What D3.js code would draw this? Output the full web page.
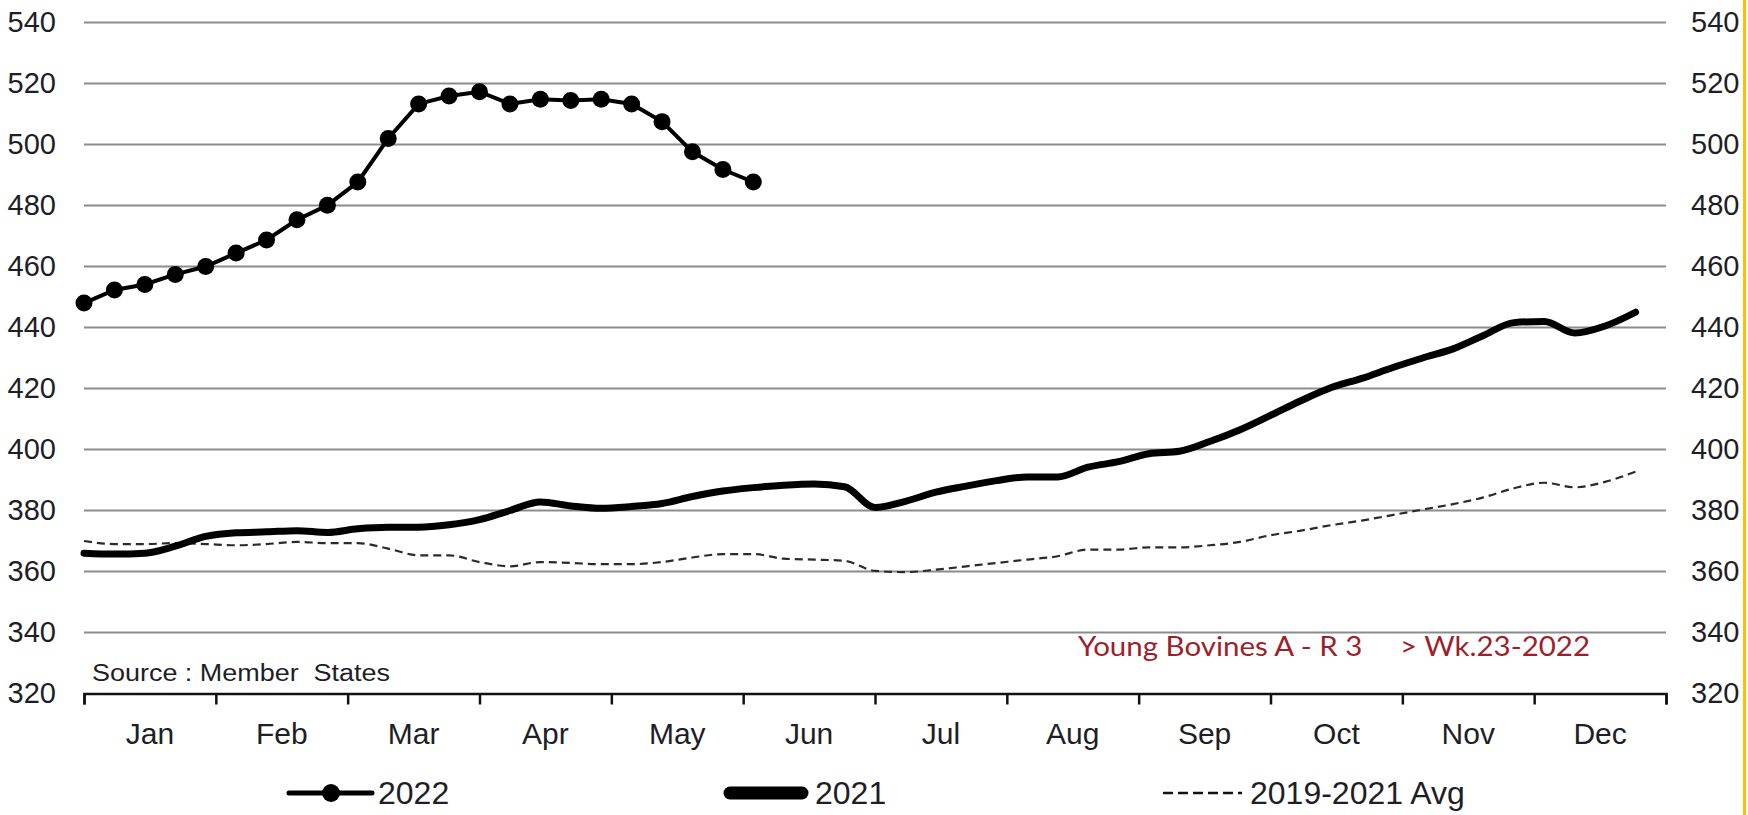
<!DOCTYPE html>
<html>
<head>
<meta charset="utf-8">
<script src="https://cdn.jsdelivr.net/npm/d3@7"></script>
<style>
  body { margin: 0; background: #fff; }
  text { font-family: "Liberation Sans", Arial, sans-serif; fill: #1e1e26; }
</style>
</head>
<body>
<svg id="chart" width="1748" height="815"></svg>
<script>
// weekly prices, EUR/100kg
var months = ["Jan","Feb","Mar","Apr","May","Jun","Jul","Aug","Sep","Oct","Nov","Dec"];
var yTicks = [320,340,360,380,400,420,440,460,480,500,520,540];

var v2022 = [448,452.3,454.1,457.4,460,464.4,468.7,475.3,480.1,487.7,502,513.3,
  515.9,517.3,513.3,514.8,514.4,514.8,513.3,507.5,497.6,491.8,487.7];

var v2021 = [366,365.7,366,368.3,371.5,372.7,373,373.4,372.8,374,374.5,374.5,
  375.3,377,380,382.8,381.5,380.7,381.3,382.3,384.6,386.4,387.5,388.3,388.7,387.8,
  381,383,386,388,389.8,391,391,394.2,396,398.6,399.4,402.6,406.5,411.2,416,420.3,
  423.3,426.8,430,433,437.4,441.6,442,438.2,440.5,445];

var vAvg = [370,369,369,369.3,369,368.6,369,369.7,369.3,369.3,367.5,365.3,
  365.3,363.1,361.7,363.1,362.8,362.4,362.4,363.1,364.6,365.7,365.7,364.2,363.9,363.5,
  360.2,359.8,360.6,361.7,362.8,363.9,365,367.2,367.2,367.9,367.9,368.6,369.7,371.9,
  373.4,375.2,376.7,378.5,380.3,382.1,384.3,387.3,389.1,387.6,389.4,392.7];

var plotL = 84, plotR = 1666, plotT = 22.5, plotB = 693.5;

var svg = d3.select("#chart");

var x = d3.scaleLinear().domain([1, 53]).range([plotL, plotR]);
var xm = d3.scaleLinear().domain([0, 12]).range([plotL, plotR]);
var y = d3.scaleLinear().domain([320, 540]).range([plotB, plotT]);

// gridlines
svg.append("g")
  .selectAll("line")
  .data(yTicks.filter(function(d){ return d > 320; }))
  .enter().append("line")
  .attr("x1", plotL).attr("x2", plotR)
  .attr("y1", function(d){ return y(d); })
  .attr("y2", function(d){ return y(d); })
  .style("stroke", "#8c8c8c")
  .style("stroke-width", 2);

// left / right value labels
var yl = svg.append("g")
  .attr("transform", "translate(56,0)")
  .call(d3.axisLeft(y).tickValues(yTicks).tickSize(0).tickPadding(0));
var yr = svg.append("g")
  .attr("transform", "translate(1691,0)")
  .call(d3.axisRight(y).tickValues(yTicks).tickSize(0).tickPadding(0));
[yl, yr].forEach(function(g){
  g.select(".domain").remove();
  g.selectAll("text").style("font-size", "29px").style("font-family", "Liberation Sans, Arial, sans-serif").attr("fill", "#1e1e26");
});

// month axis
var xa = svg.append("g")
  .attr("transform", "translate(0," + plotB + ")")
  .call(d3.axisBottom(xm).tickValues(d3.range(0, 13)).tickSize(11).tickFormat(""));
xa.select(".domain").style("stroke", "#111").style("stroke-width", 2.5);
xa.selectAll(".tick line").style("stroke", "#111").style("stroke-width", 2.5);

svg.append("g")
  .selectAll("text")
  .data(months)
  .enter().append("text")
  .attr("x", function(d, i){ return xm(i + 0.5); })
  .attr("y", 744)
  .attr("text-anchor", "middle")
  .style("font-size", "30px")
  .text(function(d){ return d; });

// series
var smooth = d3.line()
  .x(function(d, i){ return x(i + 1); })
  .y(function(d){ return y(d); })
  .curve(d3.curveMonotoneX);

svg.append("path")
  .datum(vAvg)
  .attr("d", smooth)
  .style("fill", "none")
  .style("stroke", "#2a2a2a")
  .style("stroke-width", 2.2)
  .style("stroke-dasharray", "8,5");

svg.append("path")
  .datum(v2021)
  .attr("d", smooth)
  .style("fill", "none")
  .style("stroke", "#000")
  .style("stroke-width", 7)
  .style("stroke-linejoin", "round")
  .style("stroke-linecap", "round");

var straight = d3.line()
  .x(function(d, i){ return x(i + 1); })
  .y(function(d){ return y(d); });

svg.append("path")
  .datum(v2022)
  .attr("d", straight)
  .style("fill", "none")
  .style("stroke", "#000")
  .style("stroke-width", 4);

svg.append("g")
  .selectAll("circle")
  .data(v2022)
  .enter().append("circle")
  .attr("cx", function(d, i){ return x(i + 1); })
  .attr("cy", function(d){ return y(d); })
  .attr("r", 8.5)
  .style("fill", "#000");

// notes
svg.append("text")
  .attr("x", 92).attr("y", 681)
  .attr("textLength", 298)
  .attr("lengthAdjust", "spacingAndGlyphs")
  .style("font-size", "23px")
  .style("white-space", "pre")
  .text("Source : Member  States");

svg.append("text")
  .attr("x", 1078).attr("y", 656)
  .attr("textLength", 512)
  .attr("lengthAdjust", "spacingAndGlyphs")
  .style("font-family", "Lato, 'Open Sans', sans-serif")
  .style("font-size", "26px")
  .style("white-space", "pre")
  .style("fill", "#9e1f2c")
  .text("Young Bovines A - R 3     > Wk.23-2022");

// legend
var ly = 793;
svg.append("line").attr("x1", 289).attr("x2", 372).attr("y1", ly).attr("y2", ly)
  .style("stroke", "#000").style("stroke-width", 5).style("stroke-linecap", "round");
svg.append("circle").attr("cx", 331).attr("cy", ly).attr("r", 9).style("fill", "#000");
svg.append("text").attr("x", 378).attr("y", ly + 11).style("font-size", "32px").text("2022");

svg.append("line").attr("x1", 730).attr("x2", 802).attr("y1", ly).attr("y2", ly)
  .style("stroke", "#000").style("stroke-width", 13).style("stroke-linecap", "round");
svg.append("text").attr("x", 815).attr("y", ly + 11).style("font-size", "32px").text("2021");

svg.append("line").attr("x1", 1163).attr("x2", 1242).attr("y1", ly).attr("y2", ly)
  .style("stroke", "#111").style("stroke-width", 2.5).style("stroke-dasharray", "10,5");
svg.append("text").attr("x", 1250).attr("y", ly + 11).style("font-size", "32px").text("2019-2021 Avg");

// orange frame edge
svg.append("line").attr("x1", 1744.5).attr("x2", 1744.5).attr("y1", 0).attr("y2", 815)
  .style("stroke", "#ffc000").style("stroke-width", 3);
</script>
</body>
</html>
